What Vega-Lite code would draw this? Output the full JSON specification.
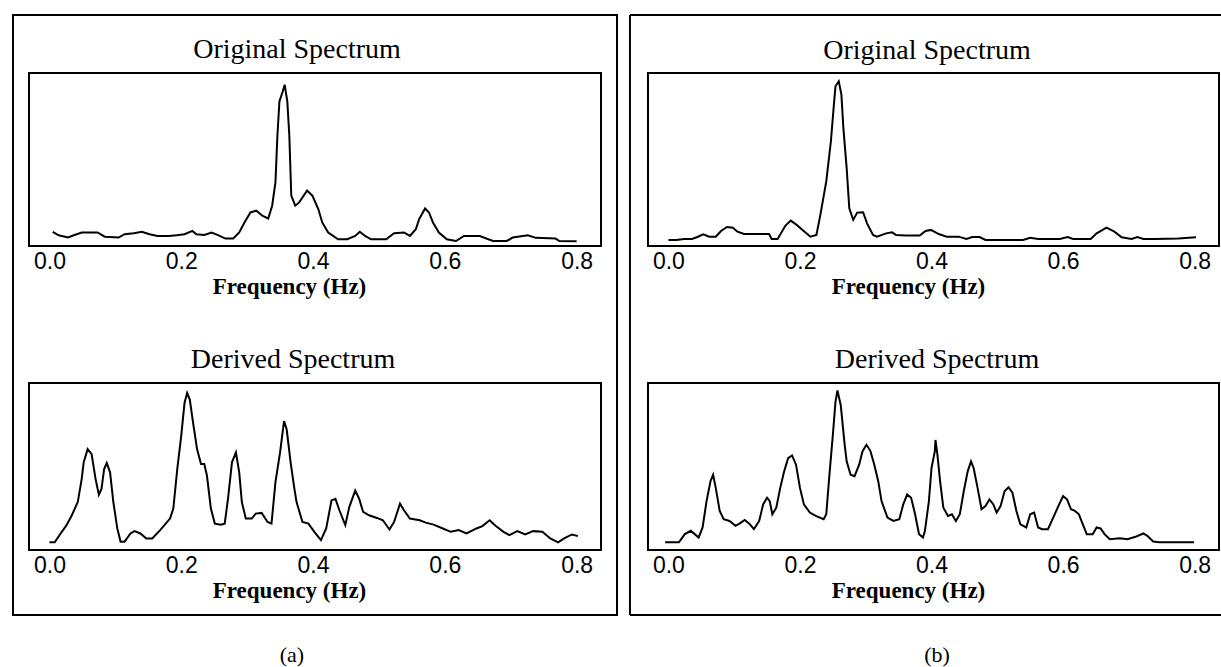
{
  "$schema": "https://vega.github.io/schema/vega-lite/v6.json",
  "background": "white",
  "padding": {"left": 10, "top": 12, "right": 0, "bottom": 0},
  "columns": 2,
  "bounds": "flush",
  "spacing": {"row": 137, "column": 47},
  "config": {
    "view": {"stroke": "black", "strokeWidth": 2},
    "line": {"color": "black", "strokeWidth": 2},
    "text": {"font": "Liberation Serif", "color": "black", "align": "center", "baseline": "alphabetic", "clip": false},
    "axisX": {
      "domain": false, "ticks": false, "tickSize": 0, "grid": false,
      "labelFont": "Liberation Sans Narrow, Liberation Sans", "labelFontSize": 23, "labelColor": "black",
      "labelPadding": 4, "labelFlush": false, "labelOverlap": false,
      "titleFont": "Liberation Serif", "titleFontSize": 23, "titleFontWeight": "bold",
      "titleColor": "black", "titleBaseline": "alphabetic", "titleY": 47, "titleX": 260, "titleAlign": "center"
    }
  },
  "datasets": {
    "a_original": [
      {"freq":0.005,"amp":8.2},{"freq":0.014,"amp":6.2},{"freq":0.028,"amp":4.9},{"freq":0.037,"amp":6.2},{"freq":0.049,"amp":7.8},{"freq":0.073,"amp":7.8},{"freq":0.084,"amp":5.4},{"freq":0.105,"amp":4.9},{"freq":0.114,"amp":6.8},{"freq":0.128,"amp":7.4},{"freq":0.140,"amp":8.2},{"freq":0.152,"amp":6.8},{"freq":0.164,"amp":5.8},{"freq":0.181,"amp":5.8},{"freq":0.193,"amp":6.2},{"freq":0.205,"amp":6.8},{"freq":0.217,"amp":8.7},{"freq":0.223,"amp":6.8},{"freq":0.235,"amp":6.4},{"freq":0.246,"amp":7.8},{"freq":0.255,"amp":6.4},{"freq":0.267,"amp":4.3},{"freq":0.279,"amp":4.3},{"freq":0.288,"amp":7.8},{"freq":0.296,"amp":13.6},{"freq":0.305,"amp":19.4},{"freq":0.314,"amp":20.4},{"freq":0.323,"amp":17.5},{"freq":0.332,"amp":15.9},{"freq":0.338,"amp":23.3},{"freq":0.343,"amp":36.9},{"freq":0.346,"amp":64.1},{"freq":0.349,"amp":83.5},{"freq":0.354,"amp":89.3},{"freq":0.357,"amp":93.2},{"freq":0.361,"amp":83.5},{"freq":0.364,"amp":64.1},{"freq":0.367,"amp":29.1},{"freq":0.373,"amp":23.3},{"freq":0.379,"amp":25.2},{"freq":0.391,"amp":32.0},{"freq":0.399,"amp":29.1},{"freq":0.408,"amp":21.4},{"freq":0.414,"amp":13.6},{"freq":0.423,"amp":7.8},{"freq":0.438,"amp":3.9},{"freq":0.452,"amp":3.9},{"freq":0.464,"amp":5.8},{"freq":0.471,"amp":8.2},{"freq":0.479,"amp":5.8},{"freq":0.488,"amp":3.9},{"freq":0.511,"amp":3.9},{"freq":0.523,"amp":7.4},{"freq":0.538,"amp":7.8},{"freq":0.547,"amp":5.8},{"freq":0.556,"amp":9.7},{"freq":0.561,"amp":15.5},{"freq":0.570,"amp":21.7},{"freq":0.576,"amp":19.4},{"freq":0.582,"amp":13.6},{"freq":0.591,"amp":7.8},{"freq":0.603,"amp":3.9},{"freq":0.617,"amp":2.9},{"freq":0.629,"amp":5.8},{"freq":0.653,"amp":5.8},{"freq":0.673,"amp":2.9},{"freq":0.694,"amp":2.9},{"freq":0.703,"amp":4.9},{"freq":0.726,"amp":6.2},{"freq":0.738,"amp":4.7},{"freq":0.768,"amp":4.3},{"freq":0.774,"amp":2.9},{"freq":0.800,"amp":2.7}
    ],
    "a_derived": [
      {"freq":0.000,"amp":4.6},{"freq":0.008,"amp":4.6},{"freq":0.017,"amp":9.9},{"freq":0.026,"amp":14.9},{"freq":0.034,"amp":20.8},{"freq":0.043,"amp":28.7},{"freq":0.049,"amp":42.6},{"freq":0.052,"amp":52.5},{"freq":0.058,"amp":60.4},{"freq":0.064,"amp":57.4},{"freq":0.070,"amp":42.6},{"freq":0.075,"amp":33.1},{"freq":0.079,"amp":36.6},{"freq":0.083,"amp":48.5},{"freq":0.087,"amp":52.1},{"freq":0.092,"amp":46.5},{"freq":0.097,"amp":28.7},{"freq":0.103,"amp":12.9},{"freq":0.108,"amp":5.0},{"freq":0.114,"amp":5.0},{"freq":0.123,"amp":9.9},{"freq":0.129,"amp":11.3},{"freq":0.138,"amp":9.9},{"freq":0.147,"amp":6.9},{"freq":0.156,"amp":6.9},{"freq":0.168,"amp":11.9},{"freq":0.183,"amp":18.8},{"freq":0.188,"amp":24.8},{"freq":0.194,"amp":48.5},{"freq":0.200,"amp":68.3},{"freq":0.205,"amp":88.1},{"freq":0.209,"amp":94.1},{"freq":0.213,"amp":90.1},{"freq":0.218,"amp":76.2},{"freq":0.224,"amp":60.4},{"freq":0.230,"amp":51.5},{"freq":0.235,"amp":51.5},{"freq":0.239,"amp":44.6},{"freq":0.245,"amp":24.8},{"freq":0.251,"amp":15.8},{"freq":0.260,"amp":15.2},{"freq":0.266,"amp":15.8},{"freq":0.271,"amp":30.7},{"freq":0.277,"amp":52.5},{"freq":0.283,"amp":58.4},{"freq":0.288,"amp":46.5},{"freq":0.292,"amp":28.7},{"freq":0.298,"amp":18.8},{"freq":0.307,"amp":18.8},{"freq":0.313,"amp":21.8},{"freq":0.322,"amp":22.2},{"freq":0.331,"amp":16.8},{"freq":0.337,"amp":15.8},{"freq":0.343,"amp":40.6},{"freq":0.350,"amp":58.4},{"freq":0.356,"amp":77.2},{"freq":0.360,"amp":72.3},{"freq":0.366,"amp":52.5},{"freq":0.371,"amp":38.6},{"freq":0.375,"amp":28.7},{"freq":0.384,"amp":16.8},{"freq":0.393,"amp":15.8},{"freq":0.402,"amp":10.9},{"freq":0.412,"amp":5.9},{"freq":0.420,"amp":12.9},{"freq":0.428,"amp":29.7},{"freq":0.434,"amp":30.7},{"freq":0.440,"amp":23.8},{"freq":0.449,"amp":14.9},{"freq":0.455,"amp":25.7},{"freq":0.464,"amp":35.6},{"freq":0.470,"amp":30.7},{"freq":0.476,"amp":22.8},{"freq":0.485,"amp":20.8},{"freq":0.497,"amp":19.2},{"freq":0.506,"amp":17.8},{"freq":0.516,"amp":12.3},{"freq":0.523,"amp":16.8},{"freq":0.532,"amp":27.7},{"freq":0.538,"amp":23.8},{"freq":0.547,"amp":18.8},{"freq":0.562,"amp":17.8},{"freq":0.571,"amp":16.4},{"freq":0.583,"amp":15.2},{"freq":0.597,"amp":12.9},{"freq":0.609,"amp":10.9},{"freq":0.621,"amp":11.9},{"freq":0.633,"amp":9.9},{"freq":0.648,"amp":12.9},{"freq":0.657,"amp":14.3},{"freq":0.668,"amp":17.8},{"freq":0.677,"amp":14.5},{"freq":0.689,"amp":10.9},{"freq":0.698,"amp":8.9},{"freq":0.710,"amp":11.3},{"freq":0.722,"amp":9.3},{"freq":0.734,"amp":11.3},{"freq":0.748,"amp":10.9},{"freq":0.760,"amp":6.9},{"freq":0.772,"amp":4.6},{"freq":0.781,"amp":6.9},{"freq":0.793,"amp":9.3},{"freq":0.802,"amp":8.3}
    ],
    "b_original": [
      {"freq":0.000,"amp":3.5},{"freq":0.012,"amp":3.5},{"freq":0.024,"amp":4.1},{"freq":0.036,"amp":4.1},{"freq":0.044,"amp":5.2},{"freq":0.053,"amp":6.8},{"freq":0.062,"amp":5.4},{"freq":0.072,"amp":5.4},{"freq":0.080,"amp":8.7},{"freq":0.089,"amp":11.0},{"freq":0.098,"amp":10.6},{"freq":0.105,"amp":8.3},{"freq":0.115,"amp":6.9},{"freq":0.130,"amp":6.9},{"freq":0.153,"amp":6.9},{"freq":0.157,"amp":4.1},{"freq":0.166,"amp":4.1},{"freq":0.178,"amp":11.8},{"freq":0.186,"amp":14.7},{"freq":0.195,"amp":12.2},{"freq":0.207,"amp":8.3},{"freq":0.216,"amp":5.4},{"freq":0.225,"amp":6.4},{"freq":0.231,"amp":18.0},{"freq":0.240,"amp":37.3},{"freq":0.247,"amp":60.4},{"freq":0.252,"amp":83.6},{"freq":0.254,"amp":92.3},{"freq":0.259,"amp":95.2},{"freq":0.263,"amp":87.5},{"freq":0.266,"amp":68.1},{"freq":0.271,"amp":45.0},{"freq":0.275,"amp":21.8},{"freq":0.281,"amp":15.1},{"freq":0.287,"amp":19.3},{"freq":0.296,"amp":19.5},{"freq":0.302,"amp":13.1},{"freq":0.311,"amp":6.4},{"freq":0.317,"amp":5.4},{"freq":0.331,"amp":7.3},{"freq":0.340,"amp":7.9},{"freq":0.346,"amp":6.4},{"freq":0.361,"amp":6.0},{"freq":0.382,"amp":6.0},{"freq":0.391,"amp":8.7},{"freq":0.399,"amp":9.3},{"freq":0.411,"amp":6.9},{"freq":0.423,"amp":5.4},{"freq":0.441,"amp":5.4},{"freq":0.453,"amp":4.1},{"freq":0.462,"amp":5.2},{"freq":0.473,"amp":5.2},{"freq":0.482,"amp":3.5},{"freq":0.539,"amp":3.5},{"freq":0.550,"amp":4.8},{"freq":0.562,"amp":4.1},{"freq":0.595,"amp":4.1},{"freq":0.607,"amp":5.2},{"freq":0.615,"amp":4.1},{"freq":0.642,"amp":4.1},{"freq":0.651,"amp":7.3},{"freq":0.666,"amp":10.6},{"freq":0.678,"amp":8.3},{"freq":0.689,"amp":5.0},{"freq":0.704,"amp":4.1},{"freq":0.713,"amp":5.2},{"freq":0.722,"amp":4.1},{"freq":0.740,"amp":4.1},{"freq":0.775,"amp":4.4},{"freq":0.802,"amp":5.0}
    ],
    "b_derived": [
      {"freq":-0.005,"amp":4.6},{"freq":0.016,"amp":4.6},{"freq":0.025,"amp":9.5},{"freq":0.034,"amp":11.5},{"freq":0.040,"amp":9.5},{"freq":0.046,"amp":7.5},{"freq":0.052,"amp":13.5},{"freq":0.058,"amp":29.3},{"freq":0.064,"amp":41.2},{"freq":0.068,"amp":45.1},{"freq":0.072,"amp":37.2},{"freq":0.078,"amp":23.4},{"freq":0.084,"amp":18.4},{"freq":0.093,"amp":17.4},{"freq":0.102,"amp":14.5},{"freq":0.108,"amp":15.8},{"freq":0.116,"amp":18.0},{"freq":0.123,"amp":15.8},{"freq":0.130,"amp":12.5},{"freq":0.138,"amp":17.4},{"freq":0.144,"amp":27.3},{"freq":0.150,"amp":31.3},{"freq":0.154,"amp":29.3},{"freq":0.158,"amp":21.4},{"freq":0.164,"amp":25.3},{"freq":0.170,"amp":37.2},{"freq":0.176,"amp":47.1},{"freq":0.182,"amp":55.0},{"freq":0.188,"amp":56.6},{"freq":0.194,"amp":51.1},{"freq":0.200,"amp":37.2},{"freq":0.206,"amp":27.3},{"freq":0.215,"amp":22.4},{"freq":0.224,"amp":20.4},{"freq":0.236,"amp":18.4},{"freq":0.240,"amp":21.4},{"freq":0.244,"amp":41.2},{"freq":0.250,"amp":68.9},{"freq":0.254,"amp":88.7},{"freq":0.257,"amp":95.6},{"freq":0.262,"amp":86.7},{"freq":0.268,"amp":63.0},{"freq":0.271,"amp":53.1},{"freq":0.277,"amp":45.1},{"freq":0.283,"amp":44.2},{"freq":0.290,"amp":51.1},{"freq":0.295,"amp":59.0},{"freq":0.301,"amp":63.0},{"freq":0.307,"amp":59.4},{"freq":0.313,"amp":51.1},{"freq":0.319,"amp":41.2},{"freq":0.324,"amp":29.3},{"freq":0.333,"amp":19.4},{"freq":0.342,"amp":17.4},{"freq":0.351,"amp":18.4},{"freq":0.357,"amp":27.3},{"freq":0.363,"amp":33.3},{"freq":0.369,"amp":31.3},{"freq":0.375,"amp":21.4},{"freq":0.381,"amp":9.5},{"freq":0.387,"amp":7.5},{"freq":0.390,"amp":11.5},{"freq":0.396,"amp":29.3},{"freq":0.400,"amp":49.1},{"freq":0.405,"amp":59.0},{"freq":0.406,"amp":65.9},{"freq":0.409,"amp":57.0},{"freq":0.413,"amp":41.2},{"freq":0.418,"amp":25.3},{"freq":0.425,"amp":20.4},{"freq":0.431,"amp":21.4},{"freq":0.437,"amp":17.4},{"freq":0.443,"amp":21.4},{"freq":0.449,"amp":35.2},{"freq":0.455,"amp":47.1},{"freq":0.460,"amp":53.1},{"freq":0.464,"amp":49.1},{"freq":0.470,"amp":37.2},{"freq":0.476,"amp":24.4},{"freq":0.482,"amp":26.3},{"freq":0.488,"amp":30.3},{"freq":0.494,"amp":27.3},{"freq":0.499,"amp":22.4},{"freq":0.505,"amp":26.3},{"freq":0.511,"amp":35.2},{"freq":0.517,"amp":37.6},{"freq":0.523,"amp":34.3},{"freq":0.529,"amp":23.4},{"freq":0.535,"amp":15.4},{"freq":0.544,"amp":13.5},{"freq":0.550,"amp":21.4},{"freq":0.556,"amp":22.4},{"freq":0.562,"amp":13.5},{"freq":0.568,"amp":12.5},{"freq":0.577,"amp":12.5},{"freq":0.585,"amp":19.4},{"freq":0.594,"amp":27.3},{"freq":0.600,"amp":32.3},{"freq":0.606,"amp":30.3},{"freq":0.612,"amp":24.4},{"freq":0.618,"amp":23.4},{"freq":0.624,"amp":21.4},{"freq":0.630,"amp":15.4},{"freq":0.636,"amp":9.5},{"freq":0.645,"amp":9.5},{"freq":0.651,"amp":13.5},{"freq":0.657,"amp":12.9},{"freq":0.663,"amp":9.5},{"freq":0.671,"amp":6.5},{"freq":0.686,"amp":7.1},{"freq":0.698,"amp":6.5},{"freq":0.710,"amp":7.9},{"freq":0.722,"amp":9.9},{"freq":0.728,"amp":8.5},{"freq":0.737,"amp":5.1},{"freq":0.746,"amp":4.6},{"freq":0.799,"amp":4.6}
    ]
  },
  "concat": [
    {
      "width": 572, "height": 173,
      "layer": [
        {
          "data": {"name": "a_original"},
          "mark": "line",
          "encoding": {
            "x": {"field": "freq", "type": "quantitative", "scale": {"domain": [-0.031, 0.837], "nice": false, "zero": false},
                  "axis": {"title": "Frequency (Hz)", "values": [0, 0.2, 0.4, 0.6, 0.8], "format": ".1f"}},
            "y": {"field": "amp", "type": "quantitative", "scale": {"domain": [0, 100], "nice": false}, "axis": null}
          }
        },
        {
          "data": {"values": [{}]},
          "mark": {"type": "text", "text": "Original Spectrum", "fontSize": 28},
          "encoding": {"x": {"datum": 0.3757, "type": "quantitative"}, "y": {"datum": 108.7, "type": "quantitative"}}
        }
      ]
    },
    {
      "width": 571, "height": 173,
      "layer": [
        {
          "data": {"name": "b_original"},
          "mark": "line",
          "encoding": {
            "x": {"field": "freq", "type": "quantitative", "scale": {"domain": [-0.031, 0.837], "nice": false, "zero": false},
                  "axis": {"title": "Frequency (Hz)", "values": [0, 0.2, 0.4, 0.6, 0.8], "format": ".1f"}},
            "y": {"field": "amp", "type": "quantitative", "scale": {"domain": [0, 100], "nice": false}, "axis": null}
          }
        },
        {
          "data": {"values": [{}]},
          "mark": {"type": "text", "text": "Original Spectrum", "fontSize": 28},
          "encoding": {"x": {"datum": 0.3931, "type": "quantitative"}, "y": {"datum": 108.1, "type": "quantitative"}}
        }
      ]
    },
    {
      "width": 572, "height": 167,
      "layer": [
        {
          "data": {"name": "a_derived"},
          "mark": "line",
          "encoding": {
            "x": {"field": "freq", "type": "quantitative", "scale": {"domain": [-0.031, 0.837], "nice": false, "zero": false},
                  "axis": {"title": "Frequency (Hz)", "values": [0, 0.2, 0.4, 0.6, 0.8], "format": ".1f"}},
            "y": {"field": "amp", "type": "quantitative", "scale": {"domain": [0, 100], "nice": false}, "axis": null}
          }
        },
        {
          "data": {"values": [{}]},
          "mark": {"type": "text", "text": "Derived Spectrum", "fontSize": 28},
          "encoding": {"x": {"datum": 0.3696, "type": "quantitative"}, "y": {"datum": 109.0, "type": "quantitative"}}
        },
        {
          "data": {"values": [{}]},
          "mark": {"type": "text", "text": "(a)", "fontSize": 22},
          "encoding": {"x": {"datum": 0.368, "type": "quantitative"}, "y": {"datum": -67.1, "type": "quantitative"}}
        },
        {
          "data": {"values": [{}]},
          "mark": {"type": "rect", "fillOpacity": 0, "stroke": "black", "strokeWidth": 2, "clip": false},
          "encoding": {
            "x": {"datum": -0.0553, "type": "quantitative"},
            "x2": {"datum": 0.8613},
            "y": {"datum": 320.4, "type": "quantitative"},
            "y2": {"datum": -38.9}
          }
        }
      ]
    },
    {
      "width": 571, "height": 167,
      "layer": [
        {
          "data": {"name": "b_derived"},
          "mark": "line",
          "encoding": {
            "x": {"field": "freq", "type": "quantitative", "scale": {"domain": [-0.031, 0.837], "nice": false, "zero": false},
                  "axis": {"title": "Frequency (Hz)", "values": [0, 0.2, 0.4, 0.6, 0.8], "format": ".1f"}},
            "y": {"field": "amp", "type": "quantitative", "scale": {"domain": [0, 100], "nice": false}, "axis": null}
          }
        },
        {
          "data": {"values": [{}]},
          "mark": {"type": "text", "text": "Derived Spectrum", "fontSize": 28},
          "encoding": {"x": {"datum": 0.4083, "type": "quantitative"}, "y": {"datum": 109.0, "type": "quantitative"}}
        },
        {
          "data": {"values": [{}]},
          "mark": {"type": "text", "text": "(b)", "fontSize": 22},
          "encoding": {"x": {"datum": 0.4083, "type": "quantitative"}, "y": {"datum": -67.1, "type": "quantitative"}}
        },
        {
          "data": {"values": [{}]},
          "mark": {"type": "rule", "stroke": "black", "strokeWidth": 2, "clip": false},
          "encoding": {
            "x": {"datum": -0.0584, "type": "quantitative"},
            "x2": {"datum": 0.8416},
            "y": {"datum": 320.4, "type": "quantitative"}
          }
        },
        {
          "data": {"values": [{}]},
          "mark": {"type": "rule", "stroke": "black", "strokeWidth": 2, "clip": false},
          "encoding": {
            "x": {"datum": -0.0584, "type": "quantitative"},
            "x2": {"datum": 0.8416},
            "y": {"datum": -38.9, "type": "quantitative"}
          }
        },
        {
          "data": {"values": [{}]},
          "mark": {"type": "rule", "stroke": "black", "strokeWidth": 2, "clip": false},
          "encoding": {
            "x": {"datum": -0.0584, "type": "quantitative"},
            "y": {"datum": 320.4, "type": "quantitative"},
            "y2": {"datum": -38.9}
          }
        }
      ]
    }
  ]
}
